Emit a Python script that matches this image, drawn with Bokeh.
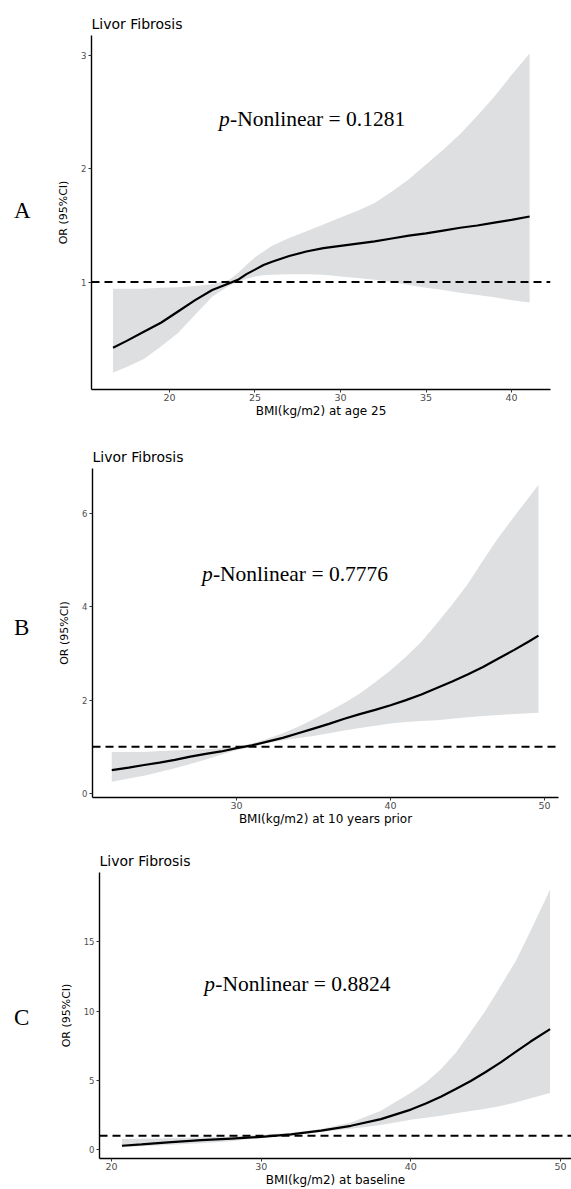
from bokeh.plotting import figure
from bokeh.models import Range1d, Span, Label, FixedTicker, Div
from bokeh.layouts import column, row
from bokeh.embed import file_html
from bokeh.resources import INLINE

# ---------------- data ----------------
title_text = "Livor Fibrosis"
y_title = "OR (95%CI)"

# Panel A: BMI at age 25
a_x = [16.7, 17.5, 18.5, 19.5, 20.5, 21.5, 22.5, 23.5, 24.0, 24.5, 25.0, 25.5, 26, 27, 28, 29,
       30, 31, 32, 33, 34, 35, 36, 37, 38, 39, 40, 41.06]
a_or = [0.42, 0.48, 0.56, 0.64, 0.74, 0.84, 0.93, 0.99, 1.02, 1.07, 1.11, 1.15, 1.18, 1.23, 1.27, 1.30,
        1.32, 1.34, 1.36, 1.385, 1.41, 1.43, 1.455, 1.48, 1.50, 1.525, 1.55, 1.58]
a_up = [0.94, 0.94, 0.94, 0.95, 0.955, 0.965, 0.98, 1.02, 1.08, 1.15, 1.22, 1.27, 1.32, 1.39, 1.45, 1.51,
        1.57, 1.63, 1.70, 1.80, 1.91, 2.04, 2.17, 2.31, 2.47, 2.64, 2.83, 3.02]
a_lo = [0.20, 0.25, 0.32, 0.43, 0.55, 0.71, 0.87, 0.97, 1.00, 1.03, 1.05, 1.06, 1.065, 1.07, 1.07, 1.065,
        1.05, 1.035, 1.02, 1.00, 0.975, 0.95, 0.93, 0.905, 0.885, 0.865, 0.84, 0.82]
a_xticks = [20, 25, 30, 35, 40]
a_yticks = [1, 2, 3]
a_xlabel = "BMI(kg/m2) at age 25"
a_p = "-Nonlinear = 0.1281"

# Panel B: BMI 10 years prior
b_x = [21.9, 23, 24, 25, 26, 27, 28, 29, 30, 31, 32, 33, 34, 35, 36, 37, 38, 39, 40, 41, 42, 43, 44,
       45, 46, 47, 48, 49, 49.6]
b_or = [0.50, 0.555, 0.61, 0.66, 0.72, 0.79, 0.85, 0.90, 0.97, 1.03, 1.11, 1.19, 1.29, 1.39, 1.49, 1.60,
        1.70, 1.79, 1.89, 2.00, 2.12, 2.26, 2.40, 2.55, 2.71, 2.89, 3.07, 3.26, 3.38]
b_up = [0.89, 0.89, 0.89, 0.91, 0.92, 0.94, 0.95, 0.97, 1.00, 1.07, 1.17, 1.29, 1.43, 1.59, 1.76, 1.94,
        2.14, 2.38, 2.64, 2.93, 3.25, 3.64, 4.05, 4.48, 4.99, 5.48, 5.92, 6.35, 6.61]
b_lo = [0.25, 0.32, 0.38, 0.46, 0.54, 0.63, 0.73, 0.83, 0.93, 1.00, 1.08, 1.14, 1.19, 1.23, 1.29, 1.35,
        1.40, 1.45, 1.50, 1.53, 1.55, 1.57, 1.60, 1.63, 1.66, 1.68, 1.70, 1.72, 1.73]
b_xticks = [30, 40, 50]
b_yticks = [0, 2, 4, 6]
b_xlabel = "BMI(kg/m2) at 10 years prior"
b_p = "-Nonlinear = 0.7776"

# Panel C: BMI at baseline
c_x = [20.7, 22, 24, 26, 28, 30, 32, 34, 36, 38, 40, 41, 42, 43, 44, 45, 46, 47, 48, 49.3]
c_or = [0.28, 0.38, 0.54, 0.68, 0.80, 0.92, 1.10, 1.37, 1.72, 2.20, 2.89, 3.33, 3.82, 4.38, 4.95, 5.60,
        6.30, 7.05, 7.80, 8.70]
c_up = [0.76, 0.78, 0.83, 0.88, 0.95, 1.05, 1.22, 1.48, 1.95, 2.80, 4.10, 4.85, 5.80, 7.00, 8.50, 10.05,
        11.80, 13.60, 15.80, 18.77]
c_lo = [0.17, 0.24, 0.36, 0.46, 0.60, 0.86, 1.03, 1.28, 1.50, 1.78, 2.15, 2.30, 2.45, 2.62, 2.78, 2.95,
        3.15, 3.40, 3.70, 4.08]
c_xticks = [20, 30, 40, 50]
c_yticks = [0, 5, 10, 15]
c_xlabel = "BMI(kg/m2) at baseline"
c_p = "-Nonlinear = 0.8824"

SANS = "DejaVu Sans"
SERIF = "Liberation Serif"
BAND = "#dddfe1"
DIV_W = 50
FIG_W = 571 - DIV_W


def panel(h, xr, yr, borders, xs, orv, up, lo, xticks, yticks, xlabel, ptxt, ppos,
          letter, letter_top, letter_left):
    bl, br, bt, bb = borders
    p = figure(width=FIG_W, height=h, x_range=Range1d(*xr), y_range=Range1d(*yr),
               output_backend="svg", toolbar_location=None,
               min_border_left=bl, min_border_right=br, min_border_top=bt, min_border_bottom=bb)
    p.grid.visible = False
    p.outline_line_color = None
    p.background_fill_color = "white"
    p.border_fill_color = "white"

    p.title.text = title_text
    p.title.align = "left"
    p.title.text_font = SANS
    p.title.text_font_size = "14px"
    p.title.text_font_style = "normal"
    p.title.text_color = "black"
    p.title.standoff = 7
    p.title.offset = 0

    p.varea(x=xs, y1=lo, y2=up, fill_color=BAND, fill_alpha=1.0)
    p.add_layout(Span(location=1, dimension="width", line_color="black",
                      line_width=2, line_dash="8 5"))
    p.line(xs, orv, line_color="black", line_width=2.2)

    p.xaxis.ticker = FixedTicker(ticks=xticks)
    p.yaxis.ticker = FixedTicker(ticks=yticks)
    p.axis.axis_line_color = "black"
    p.axis.axis_line_width = 1.4
    p.axis.major_tick_line_color = "#333333"
    p.axis.major_tick_out = 3
    p.axis.major_tick_in = 0
    p.axis.minor_tick_line_color = None
    p.axis.major_label_text_color = "#4d4d4d"
    p.axis.major_label_text_font = SANS
    p.xaxis.major_label_text_font_size = "9.5px"
    p.yaxis.major_label_text_font_size = "8.5px"
    p.axis.major_label_standoff = 2
    p.xaxis.major_label_standoff = 1
    p.axis.axis_label_text_font = SANS
    p.axis.axis_label_text_font_style = "normal"
    p.axis.axis_label_text_color = "black"
    p.xaxis.axis_label = xlabel
    p.yaxis.axis_label = y_title
    p.xaxis.axis_label_text_font_size = "12px"
    p.yaxis.axis_label_text_font_size = "11px"
    p.xaxis.axis_label_standoff = 0
    p.yaxis.axis_label_standoff = 8

    p.add_layout(Label(x=ppos[0], y=ppos[1], text="p", text_font=SERIF,
                       text_font_style="italic", text_font_size="21.5px", text_color="black",
                       text_align="left", text_baseline="middle"))
    p.add_layout(Label(x=ppos[0], y=ppos[1], x_offset=11, text=ptxt, text_font=SERIF,
                       text_font_size="21.5px", text_color="black",
                       text_align="left", text_baseline="middle"))

    d = Div(text=('<div style="font-family:\'Liberation Serif\';font-size:23px;line-height:23px;'
                  'color:black;margin-top:%dpx;margin-left:%dpx">%s</div>'
                  % (letter_top, letter_left, letter)),
            width=DIV_W, height=h, margin=0)
    return row(d, p, spacing=0)


pa = panel(430, (15.44, 42.28), (0.05, 3.18), (41, 21, 35, 41),
           a_x, a_or, a_up, a_lo, a_xticks, a_yticks, a_xlabel, a_p,
           (22.9, 2.44), "A", 199, 14)
pb = panel(400, (20.65, 50.9), (-0.086, 6.96), (42, 13, 38, 33),
           b_x, b_or, b_up, b_lo, b_xticks, b_yticks, b_xlabel, b_p,
           (27.75, 4.7), "B", 186, 14)
pc = panel(359, (19.2, 50.73), (-0.64, 20.0), (49, 0, 42, 28),
           c_x, c_or, c_up, c_lo, c_xticks, c_yticks, c_xlabel, c_p,
           (26.2, 11.94), "C", 176, 14)

layout = column(pa, pb, pc, spacing=0)
open("out.html", "w").write(file_html(layout, INLINE))
